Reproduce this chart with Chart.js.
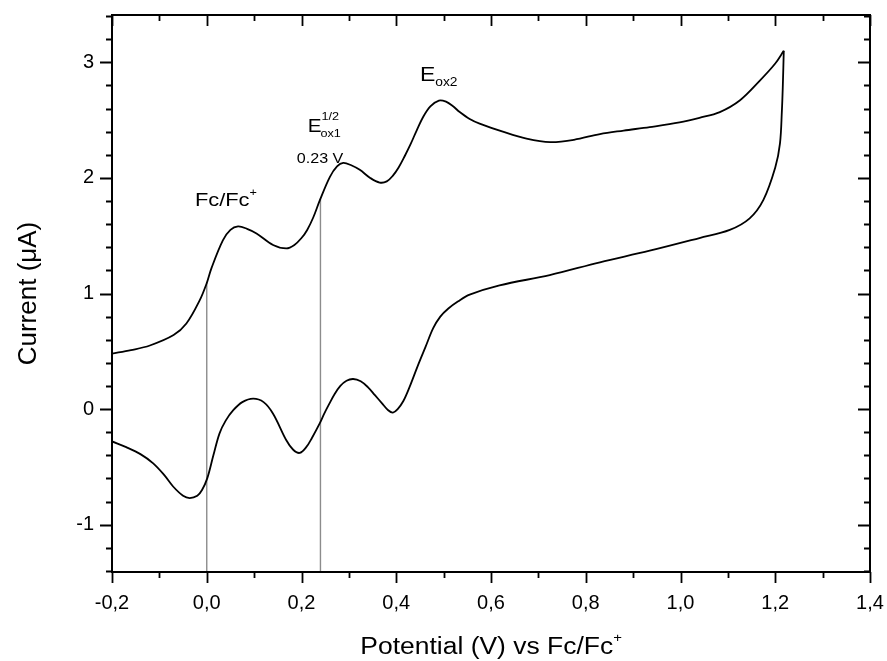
<!DOCTYPE html>
<html>
<head>
<meta charset="utf-8">
<script src="https://cdn.jsdelivr.net/npm/chart.js@4.4.0/dist/chart.umd.min.js"></script>
<style>
  html, body { margin: 0; padding: 0; background: #fff; }
  canvas { display: block; }
</style>
</head>
<body>
<canvas id="cv" width="887" height="661"></canvas>
<script>
// forward scan (upper branch), V vs Fc/Fc+ and uA
var fwdPotential = [-0.200, -0.160, -0.120, -0.070, -0.043, -0.015, 0.000, 0.010, 0.034, 0.050,
  0.066, 0.085, 0.105, 0.140, 0.168, 0.185, 0.200, 0.212, 0.225, 0.239,
  0.260, 0.275, 0.288, 0.305, 0.323, 0.345, 0.365, 0.380, 0.393, 0.405,
  0.418, 0.430, 0.443, 0.457, 0.472, 0.490, 0.505, 0.520, 0.534, 0.555,
  0.576, 0.625, 0.675, 0.725, 0.775, 0.830, 0.880, 0.935, 0.998, 1.040,
  1.083, 1.125, 1.167, 1.200, 1.218];
var fwdCurrent = [0.48, 0.51, 0.55, 0.64, 0.74, 0.94, 1.09, 1.22, 1.46, 1.55,
  1.58, 1.56, 1.52, 1.42, 1.39, 1.42, 1.48, 1.55, 1.66, 1.81,
  2.01, 2.10, 2.13, 2.11, 2.07, 2.00, 1.96, 1.97, 2.02, 2.09,
  2.19, 2.29, 2.41, 2.53, 2.62, 2.67, 2.66, 2.62, 2.57, 2.51,
  2.47, 2.40, 2.34, 2.31, 2.33, 2.38, 2.41, 2.44, 2.48, 2.52,
  2.57, 2.67, 2.84, 2.99, 3.10];

// reverse scan (lower branch)
var revPotential = [1.218, 1.216, 1.214, 1.210, 1.200, 1.175, 1.146, 1.104, 1.040, 0.935,
  0.830, 0.724, 0.618, 0.555, 0.530, 0.510, 0.493, 0.478, 0.462, 0.445,
  0.428, 0.415, 0.403, 0.393, 0.383, 0.370, 0.355, 0.340, 0.325, 0.309,
  0.295, 0.282, 0.270, 0.258, 0.248, 0.239, 0.222, 0.210, 0.196, 0.182,
  0.168, 0.140, 0.120, 0.098, 0.075, 0.056, 0.040, 0.027, 0.014, 0.001,
  -0.010, -0.020, -0.036, -0.050, -0.071, -0.090, -0.113, -0.140, -0.170, -0.200];
var revCurrent = [3.10, 2.80, 2.58, 2.30, 2.09, 1.81, 1.65, 1.55, 1.48, 1.37,
  1.27, 1.16, 1.07, 0.99, 0.93, 0.87, 0.80, 0.70, 0.54, 0.37,
  0.19, 0.07, 0.00, -0.03, -0.01, 0.05, 0.12, 0.19, 0.24, 0.26,
  0.245, 0.20, 0.13, 0.04, -0.04, -0.12, -0.25, -0.33, -0.38, -0.35,
  -0.27, -0.04, 0.06, 0.09, 0.06, -0.01, -0.10, -0.21, -0.40, -0.60,
  -0.70, -0.75, -0.77, -0.75, -0.67, -0.57, -0.47, -0.39, -0.33, -0.28];

// vertical marker lines (potential, current where they stop)
var markerPotential = [0.0, 0.24];
var markerTop = [1.09, 1.82];

var xTicks = [-0.2, 0.0, 0.2, 0.4, 0.6, 0.8, 1.0, 1.2, 1.4];
var xTickLabels = ['-0,2', '0,0', '0,2', '0,4', '0,6', '0,8', '1,0', '1,2', '1,4'];
var yTicks = [-1, 0, 1, 2, 3];
var yTickLabels = ['-1', '0', '1', '2', '3'];

var xMin = -0.2, xMax = 1.4, yMin = -1.41, yMax = 3.41;
var FONT = '"Liberation Sans", Arial, sans-serif';
var SX = 1.15; // reference text is slightly wide

function pts(xs, ys) {
  return xs.map(function (x, i) { return { x: x, y: ys[i] }; });
}

var datasets = [
  { data: pts(fwdPotential, fwdCurrent), borderColor: '#000', borderWidth: 1.8, tension: 0.35, order: 1 },
  { data: pts(revPotential, revCurrent), borderColor: '#000', borderWidth: 1.8, tension: 0.35, order: 1 }
];
markerPotential.forEach(function (p, i) {
  datasets.push({ data: [{ x: p, y: yMin }, { x: p, y: markerTop[i] }],
    borderColor: '#8c8c8c', borderWidth: 1.4, tension: 0, order: 2 });
});
datasets.forEach(function (d) {
  d.showLine = true; d.pointRadius = 0; d.fill = false;
});

function wideText(ctx, s, x, y, size, align) {
  ctx.save();
  ctx.font = size + 'px ' + FONT;
  ctx.textBaseline = 'alphabetic';
  var w = ctx.measureText(s).width * SX;
  ctx.translate(x - (align === 'center' ? w / 2 : 0), y);
  ctx.scale(SX, 1);
  ctx.textAlign = 'left';
  ctx.fillText(s, 0, 0);
  ctx.restore();
  return w;
}

var decor = {
  id: 'decor',
  afterDraw: function (chart) {
    var ctx = chart.ctx, a = chart.chartArea;
    var xs = chart.scales.x, ys = chart.scales.y;
    ctx.save();
    ctx.strokeStyle = '#000';
    ctx.fillStyle = '#000';
    ctx.lineWidth = 2;
    ctx.strokeRect(a.left, a.top, a.right - a.left, a.bottom - a.top);

    // x ticks every 0.1, labelled every 0.2
    ctx.lineWidth = 1.8;
    ctx.beginPath();
    for (var i = -2; i <= 14; i++) {
      var px = Math.round(xs.getPixelForValue(i / 10)) + 0.5;
      var len = (i % 2 === 0) ? 11 : 6;
      ctx.moveTo(px, a.bottom); ctx.lineTo(px, a.bottom + len);
      ctx.moveTo(px, a.top); ctx.lineTo(px, a.top + len);
    }
    // y ticks every 0.2
    for (var j = -7; j <= 17; j++) {
      var py = Math.round(ys.getPixelForValue(j / 5)) + 0.5;
      var l2 = (j % 5 === 0) ? 12 : 6;
      ctx.moveTo(a.left, py); ctx.lineTo(a.left - l2, py);
      ctx.moveTo(a.right, py); ctx.lineTo(a.right - l2, py);
    }
    ctx.stroke();

    // annotations
    var X = function (v) { return xs.getPixelForValue(v); };
    var Y = function (v) { return ys.getPixelForValue(v); };
    var w = wideText(ctx, 'Fc/Fc', X(-0.025), Y(1.76), 19);
    wideText(ctx, '+', X(-0.025) + w, Y(1.76) - 10, 11);

    w = wideText(ctx, 'E', X(0.213), Y(2.40), 18);
    wideText(ctx, '1/2', X(0.213) + w, Y(2.40) - 12, 11);
    wideText(ctx, 'ox1', X(0.213) + w - 1, Y(2.40) + 5, 11);
    wideText(ctx, '0.23 V', X(0.19), Y(2.13), 14);

    w = wideText(ctx, 'E', X(0.45), Y(2.84), 20);
    wideText(ctx, 'ox2', X(0.45) + w, Y(2.84) + 5, 12);

    // x axis title
    ctx.font = '23px ' + FONT;
    var tw = (ctx.measureText('Potential (V) vs Fc/Fc').width + ctx.measureText('+').width * 0.55) * SX;
    var cx = (a.left + a.right) / 2 - tw / 2;
    w = wideText(ctx, 'Potential (V) vs Fc/Fc', cx, 654, 23);
    wideText(ctx, '+', cx + w, 642, 13);
    ctx.restore();
  }
};

new Chart(document.getElementById('cv'), {
  type: 'scatter',
  data: { datasets: datasets },
  options: {
    responsive: false,
    animation: false,
    layout: { padding: { left: 0, right: 17, top: 15, bottom: 0 } },
    plugins: { legend: { display: false }, tooltip: { enabled: false } },
    scales: {
      x: {
        type: 'linear', min: xMin, max: xMax,
        grid: { display: false, drawTicks: false },
        border: { display: false },
        afterBuildTicks: function (s) { s.ticks = xTicks.map(function (v) { return { value: v }; }); },
        afterFit: function (s) { s.height = 89; s.paddingLeft = 0; s.paddingRight = 0; },
        ticks: {
          padding: 19, color: '#000', font: { family: FONT, size: 20 },
          callback: function (v) { return xTickLabels[xTicks.indexOf(v)]; }
        }
      },
      y: {
        type: 'linear', min: yMin, max: yMax,
        grid: { display: false, drawTicks: false },
        border: { display: false },
        afterBuildTicks: function (s) { s.ticks = yTicks.map(function (v) { return { value: v }; }); },
        afterFit: function (s) { s.width = 112; s.paddingTop = 0; s.paddingBottom = 0; },
        ticks: {
          padding: 18, color: '#000', font: { family: FONT, size: 20 },
          callback: function (v) { return yTickLabels[yTicks.indexOf(v)]; }
        },
        title: {
          display: true, text: 'Current (\u03bcA)', color: '#000',
          font: { family: FONT, size: 26 }, padding: { top: 13, bottom: 0 }
        }
      }
    }
  },
  plugins: [decor]
});
</script>
</body>
</html>
